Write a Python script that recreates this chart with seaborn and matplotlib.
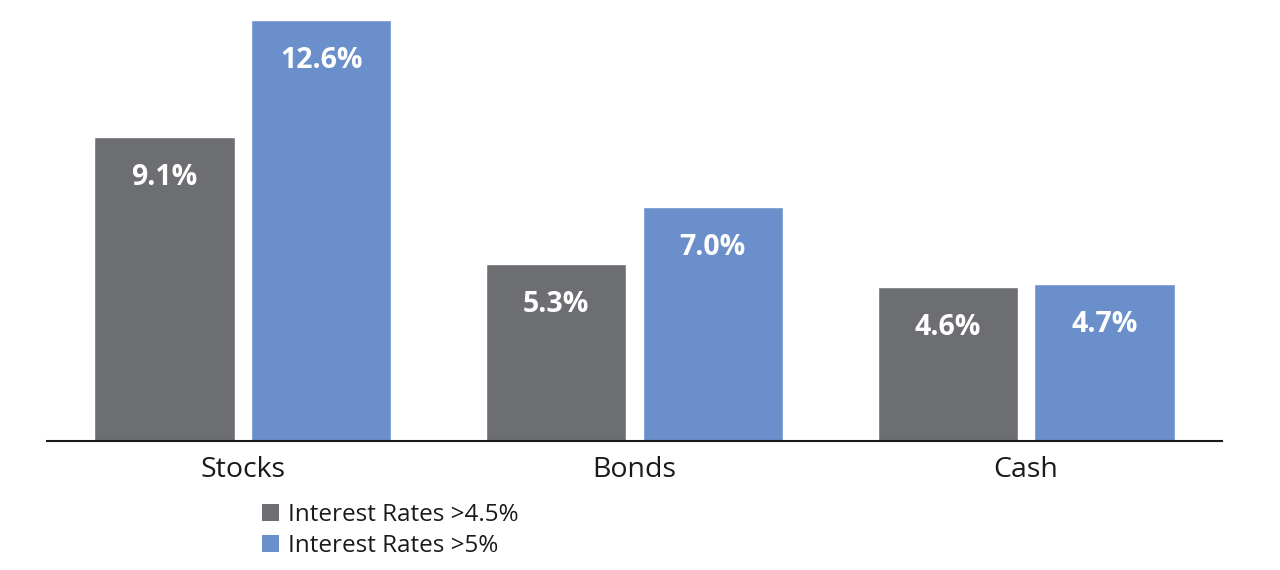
import matplotlib
matplotlib.use('Agg')
import matplotlib.pyplot as plt
from matplotlib.patches import Patch
import pandas as pd
import seaborn as sns

categories = ['Stocks', 'Bonds', 'Cash']
series_names = ['Interest Rates >4.5%', 'Interest Rates >5%']
low_rates = [9.1, 5.3, 4.6]
high_rates = [12.6, 7.0, 4.7]
colors = ['#6d6e71', '#6a8fca']

df = pd.DataFrame({
    'asset': categories * 2,
    'series': [series_names[0]] * 3 + [series_names[1]] * 3,
    'value': low_rates + high_rates,
})

sns.set_style('white')
plt.rcParams['font.family'] = ['Open Sans', 'DejaVu Sans']

fig = plt.figure(figsize=(12.8, 5.7), dpi=100)
ax = fig.add_axes([47 / 1280, 1 - 441 / 570, 1175 / 1280, 436 / 570])

sns.barplot(data=df, x='asset', y='value', hue='series', order=categories,
            hue_order=series_names, palette=colors, width=0.8, gap=0.106,
            saturation=1, legend=False, ax=ax)

# value labels inside the bars, near the top
for container in ax.containers:
    for bar in container:
        h = bar.get_height()
        ax.text(bar.get_x() + bar.get_width() / 2, h - 1.2, f'{h:.1f}%',
                ha='center', va='center', color='white', fontsize=20.5,
                fontweight='bold')

ax.set_xlim(-0.5, 2.5)
ax.set_ylim(0, 436 / 33.4)
ax.set_xlabel('')
ax.set_ylabel('')
ax.set_yticks([])
for side in ['top', 'right', 'left']:
    ax.spines[side].set_visible(False)
ax.spines['bottom'].set_color('#1a1a1a')
ax.spines['bottom'].set_linewidth(1.5)
ax.tick_params(axis='x', length=0, pad=10.5, labelsize=20.5, colors='#1a1a1a')

handles = [Patch(facecolor=c, edgecolor='none') for c in colors]
fig.legend(handles, series_names, loc='upper left',
           bbox_to_anchor=(262 / 1280, 1 - 503 / 570), frameon=False,
           fontsize=17.5, handlelength=0.7, handleheight=0.7,
           handletextpad=0.35, labelspacing=0.3, borderpad=0,
           borderaxespad=0, labelcolor='#1a1a1a')

fig.savefig('out.png', dpi=100)
